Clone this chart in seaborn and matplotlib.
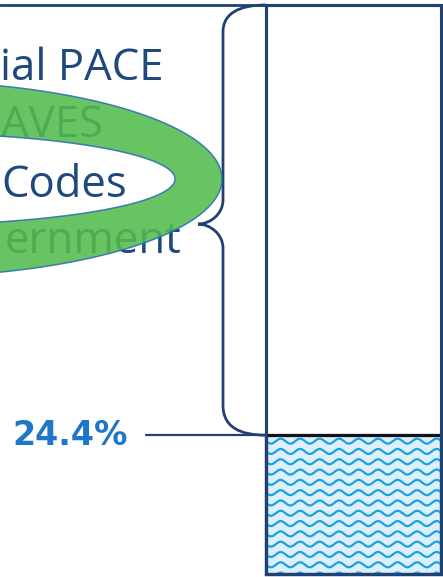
import numpy as np
import pandas as pd
import matplotlib
matplotlib.use("Agg")
import matplotlib.pyplot as plt
import seaborn as sns
from matplotlib.path import Path
from matplotlib.patches import PathPatch

# ---- data ----
categories = ["Total"]
share_lower = [24.4]
share_upper = [75.6]
value_label = "24.4%"
text_fragments = ["ial PACE", "AVES", "Codes", "ernment"]

NAVY = "#1F4272"
TEXT_NAVY = "#1F497D"
BLUE_LABEL = "#1E76C8"
WAVE_BG = "#DDF0FA"
WAVE_LINE = "#1BA1E2"
GREEN = "#53BB4D"

sns.set_theme(style="white")
W, H = 443, 577
fig = plt.figure(figsize=(W / 100, H / 100), dpi=100)
fig.patch.set_facecolor("white")

# ---- bar axes ----
bar_left, bar_right, bar_top, bar_bottom = 266, 441, 5, 574
ax_bar = fig.add_axes([bar_left / W, 1 - bar_bottom / H,
                       (bar_right - bar_left) / W, (bar_bottom - bar_top) / H])
total = [l + u for l, u in zip(share_lower, share_upper)]
df_tot = pd.DataFrame({"cat": categories, "val": total})
df_low = pd.DataFrame({"cat": categories, "val": share_lower})
sns.barplot(data=df_tot, x="cat", y="val", color="white", edgecolor=NAVY,
            linewidth=2.2, width=1, saturation=1, ax=ax_bar)
sns.barplot(data=df_low, x="cat", y="val", color=WAVE_BG, edgecolor=NAVY,
            linewidth=2.4, width=1, saturation=1, ax=ax_bar)
ax_bar.set_xlim(-0.5, 0.5)
ax_bar.set_ylim(0, 100)
ax_bar.axis("off")
for p in ax_bar.patches:
    p.set_clip_on(False)
low_patch = ax_bar.patches[1]

# ---- overlay axes in pixel coordinates ----
ax = fig.add_axes([0, 0, 1, 1], zorder=5)
ax.set_xlim(0, W)
ax.set_ylim(H, 0)
ax.axis("off")

def to_pix(xd, yd):
    xdisp, ydisp = ax_bar.transData.transform((xd, yd))
    return xdisp, H - ydisp

bx0, by_top = to_pix(-0.5, total[0])
bx1, by_base = to_pix(0.5, 0)
_, by_split = to_pix(0, share_lower[0])

# wave texture on lower segment
xs = np.linspace(bx0, bx1, 400)
for yy in np.arange(by_split + 6, by_base + 10, 10.3):
    ys = yy + 2.5 * np.sin(2 * np.pi * (xs - bx0) / 19.5)
    ln, = ax.plot(xs, ys, color=WAVE_LINE, lw=1.6, zorder=1)
    ln.set_clip_path(low_patch)
# split line (black edge on top of lower segment)
ax.plot([bx0, bx1], [by_split, by_split], color="#111111", lw=2.0, zorder=2)
# redraw bar outline on top of waves
ax.plot([bx0, bx0, bx1, bx1, bx0], [by_top, by_base, by_base, by_top, by_top],
        color=NAVY, lw=2.2, zorder=2, solid_joinstyle="miter")

# top line
ax.plot([0, bx0], [by_top, by_top], color=NAVY, lw=2.0, zorder=2)

# brace
xv = 223
tip = (198, (by_top + by_split) / 2 + 4)
verts = [
    (bx0, by_top), (bx0 - 28, by_top), (xv, by_top + 9), (xv, by_top + 27),
    (xv, tip[1] - 24),
    (xv, tip[1] - 10), (tip[0] + 12, tip[1]), tip,
    (tip[0] + 12, tip[1]), (xv, tip[1] + 10), (xv, tip[1] + 24),
    (xv, by_split - 30),
    (xv, by_split - 8), (bx0 - 26, by_split), (bx0, by_split),
]
codes = [Path.MOVETO, Path.CURVE4, Path.CURVE4, Path.CURVE4,
         Path.LINETO,
         Path.CURVE4, Path.CURVE4, Path.CURVE4,
         Path.CURVE4, Path.CURVE4, Path.CURVE4,
         Path.LINETO,
         Path.CURVE4, Path.CURVE4, Path.CURVE4]
ax.add_patch(PathPatch(Path(verts, codes), facecolor="none", edgecolor=NAVY,
                       lw=2.0, zorder=2))

# leader line + value label
ax.plot([146, bx0], [by_split, by_split], color=NAVY, lw=1.6, zorder=2)
ax.text(128, by_split, value_label, ha="right", va="center",
        fontsize=24, fontweight="bold", color=BLUE_LABEL,
        family=["DejaVu Sans"], zorder=3)

# text fragments (x, baseline, alignment)
text_pos = [(164, 80, "right"), (1, 137, "left"), (1, 197, "left"), (182, 253, "right")]
for s, (xx, yb, ha) in zip(text_fragments, text_pos):
    ax.text(xx, yb, s, ha=ha, va="baseline", fontsize=31.5,
            color=TEXT_NAVY, family=["Open Sans", "DejaVu Sans"], zorder=2)

# green ring
cx, cy = -100, 179
t = np.linspace(0, 2 * np.pi, 300)
outer = np.column_stack([cx + 322 * np.cos(t), cy + 98 * np.sin(t)])
inner = np.column_stack([cx + 275 * np.cos(t), cy + 46 * np.sin(t)])[::-1]
ring = Path.make_compound_path(Path(outer, closed=True), Path(inner, closed=True))
ax.add_patch(PathPatch(ring, facecolor=GREEN, alpha=0.88, edgecolor="#2E6DB4",
                       lw=1.1, zorder=4))

fig.savefig("out.png", dpi=100)
